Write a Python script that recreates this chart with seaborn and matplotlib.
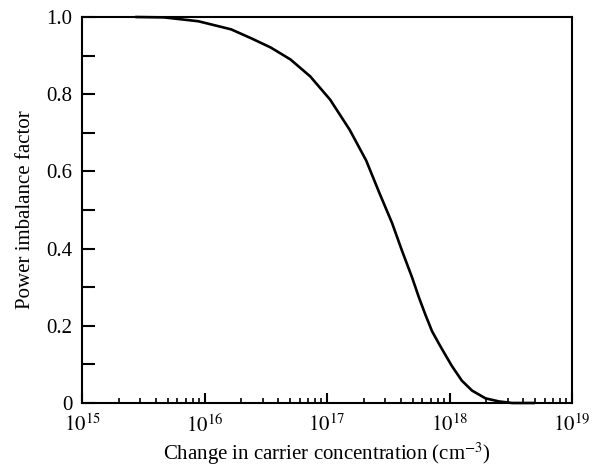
import matplotlib
matplotlib.use("Agg")
import matplotlib.pyplot as plt
import matplotlib.ticker as mticker
import numpy as np
import pandas as pd
import seaborn as sns

# Data
concentration = [2.74e15, 4.67e15, 8.9e15, 1.65e16, 2.4e16, 3.47e16, 5.03e16, 7.3e16,
                 1.06e17, 1.53e17, 2.09e17, 2.67e17, 3.4e17, 4.1e17, 4.94e17, 5.62e17,
                 6.37e17, 7.2e17, 8.15e17, 9.2e17, 1.045e18, 1.26e18, 1.53e18, 1.97e18,
                 2.54e18, 3.25e18, 4.94e18]
imbalance = [1.0, 0.999, 0.989, 0.968, 0.945, 0.921, 0.89, 0.846,
             0.786, 0.708, 0.628, 0.545, 0.466, 0.394, 0.326, 0.274,
             0.228, 0.186, 0.155, 0.126, 0.096, 0.058, 0.032, 0.012,
             0.004, 0.0, 0.0]
x_tick_values = [1e15, 1e16, 1e17, 1e18, 1e19]
x_tick_labels = [r"$10^{15}$", r"$10^{16}$", r"$10^{17}$", r"$10^{18}$", r"$10^{19}$"]
y_tick_values = [0, 0.1, 0.2, 0.3, 0.4, 0.5, 0.6, 0.7, 0.8, 0.9, 1.0]
y_tick_labels = ["0", "", "0.2", "", "0.4", "", "0.6", "", "0.8", "", "1.0"]

sns.set_theme(style="white")
plt.rcParams["font.family"] = ["Liberation Serif", "DejaVu Serif"]
plt.rcParams["mathtext.fontset"] = "stix"

df = pd.DataFrame({"conc": concentration, "pif": imbalance})

fig = plt.figure(figsize=(5.96, 4.69), dpi=100)
ax = fig.add_axes([82/596, 1 - 403/469, 490/596, 386/469])

sns.lineplot(data=df, x="conc", y="pif", ax=ax, color="black", linewidth=1.9,
             clip_on=False, solid_joinstyle="round", solid_capstyle="round")

ax.set_xscale("log")
ax.set_xlim(1e15, 1e19)
ax.set_ylim(0, 1.0)

ax.set_xticks(x_tick_values)
ax.set_xticklabels(x_tick_labels)
ax.xaxis.set_minor_locator(mticker.LogLocator(base=10, subs=np.arange(2, 10), numticks=100))
ax.xaxis.set_minor_formatter(mticker.NullFormatter())
ax.set_yticks(y_tick_values)
ax.set_yticklabels(y_tick_labels)

ax.tick_params(axis="x", which="major", direction="in", length=7.5, width=1.5,
               labelsize=15, pad=8, color="black", labelcolor="black",
               bottom=True, top=False)
ax.tick_params(axis="x", which="minor", direction="in", length=3.5, width=1.2,
               bottom=True, top=False, color="black")
ax.tick_params(axis="y", which="major", direction="in", length=9, width=1.5,
               labelsize=15, pad=7, color="black", labelcolor="black",
               left=True, right=False)

for side in ["left", "right", "top", "bottom"]:
    ax.spines[side].set_visible(True)
    ax.spines[side].set_color("black")
    ax.spines[side].set_linewidth(1.5)

ax.set_xlabel(r"Change in carrier concentration (cm$^{-3}$)", fontsize=15,
              color="black", labelpad=3)
ax.set_ylabel("Power imbalance factor", fontsize=15, color="black", labelpad=8)
ax.grid(False)

fig.savefig("out.png", dpi=100, facecolor="white")
